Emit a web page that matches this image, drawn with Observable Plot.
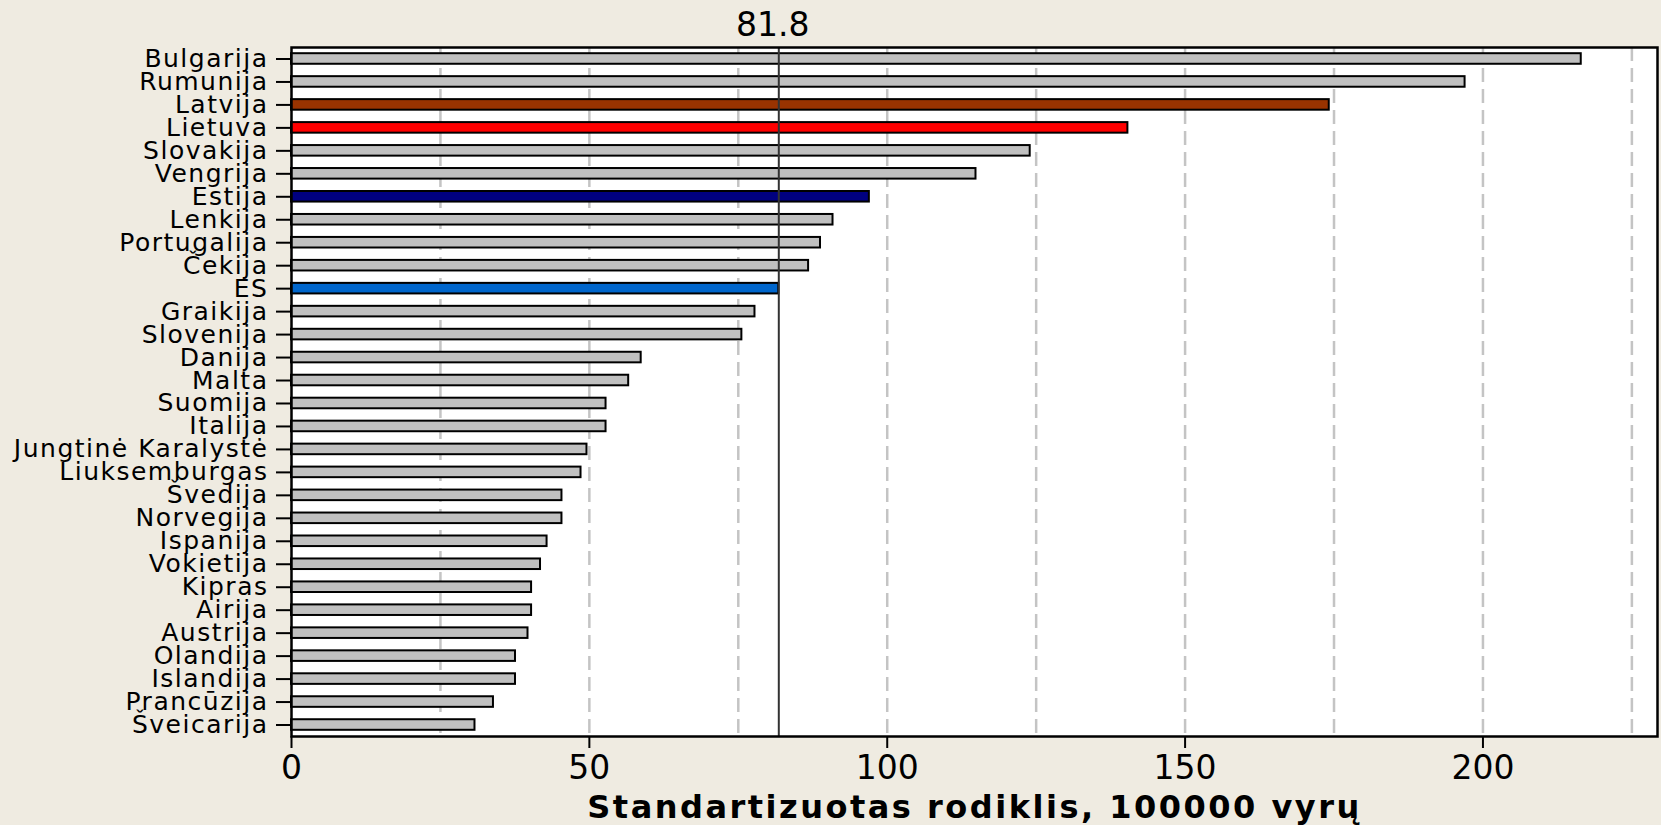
<!DOCTYPE html>
<html><head><meta charset="utf-8">
<script src="https://cdn.jsdelivr.net/npm/d3@7"></script>
<script src="https://cdn.jsdelivr.net/npm/@observablehq/plot@0.6"></script>
<style>
html,body{margin:0;padding:0;background:#efebe1;overflow:hidden;}
#chart svg g[aria-label="y-axis tick label"] text{letter-spacing:1.5px}
</style></head><body><div id="chart"></div>
<script>
const countries = ["Bulgarija","Rumunija","Latvija","Lietuva","Slovakija","Vengrija","Estija","Lenkija","Portugalija","Čekija","ES","Graikija","Slovenija","Danija","Malta","Suomija","Italija","Jungtinė Karalystė","Liuksemburgas","Švedija","Norvegija","Ispanija","Vokietija","Kipras","Airija","Austrija","Olandija","Islandija","Prancūzija","Šveicarija"];
const values = [216.5,197.0,174.2,140.4,124.0,114.9,97.0,90.9,88.8,86.8,81.8,77.8,75.6,58.7,56.6,52.8,52.8,49.6,48.6,45.4,45.4,42.9,41.8,40.3,40.3,39.7,37.6,37.6,33.9,30.8];
const highlightColors = {"Latvija":"#993300","Lietuva":"#ff0000","Estija":"#000080","ES":"#0066cc"};
const esValue = 81.8;
const xTicks = [0,50,100,150,200];
const gridTicks = [25,50,75,100,125,150,175,200,225];
const xLabel = "Standartizuotas rodiklis, 100000 vyrų";

const data = countries.map((c,i)=>({country:c, value: values[i]}));

const plot = Plot.plot({
  width:1661, height:825,
  marginLeft:291, marginRight:4, marginTop:47, marginBottom:89,
  style:{background:"#efebe1", fontFamily:"'DejaVu Sans', Verdana, sans-serif", color:"black"},
  x:{domain:[0,229.3], label:null},
  y:{domain:countries, paddingInner:0.54, paddingOuter:0.27, round:false, label:null},
  marks:[
    Plot.frame({fill:"white"}),
    Plot.ruleX(gridTicks, {stroke:"#c4c4c4", strokeWidth:2.5, strokeDasharray:"14,7"}),
    Plot.barX(data, {x:"value", y:"country", fill: d => highlightColors[d.country] ?? "#c0c0c0", stroke:"black", strokeWidth:2}),
    Plot.ruleX([esValue], {stroke:"#333", strokeWidth:2}),
    Plot.frame({stroke:"black", strokeWidth:2.5}),
    Plot.axisX({ticks:xTicks, tickSize:12, tickPadding:7, fontSize:33, label:null, strokeWidth:2}),
    Plot.axisY({tickSize:15, tickPadding:8, fontSize:25, label:null, strokeWidth:2}),
    Plot.text([esValue], {x:d=>d, text:d=>String(d), frameAnchor:"top", lineAnchor:"middle", dy:-22, dx:-6, fontSize:33}),
    Plot.text([xLabel], {frameAnchor:"bottom", lineAnchor:"middle", dy:71, fontSize:32, fontWeight:"bold", text:d=>d})
  ]
});
document.getElementById("chart").appendChild(plot);
d3.select(plot).selectAll("text").filter(function(){return this.textContent===xLabel;}).style("letter-spacing","2.5px");
</script></body></html>
